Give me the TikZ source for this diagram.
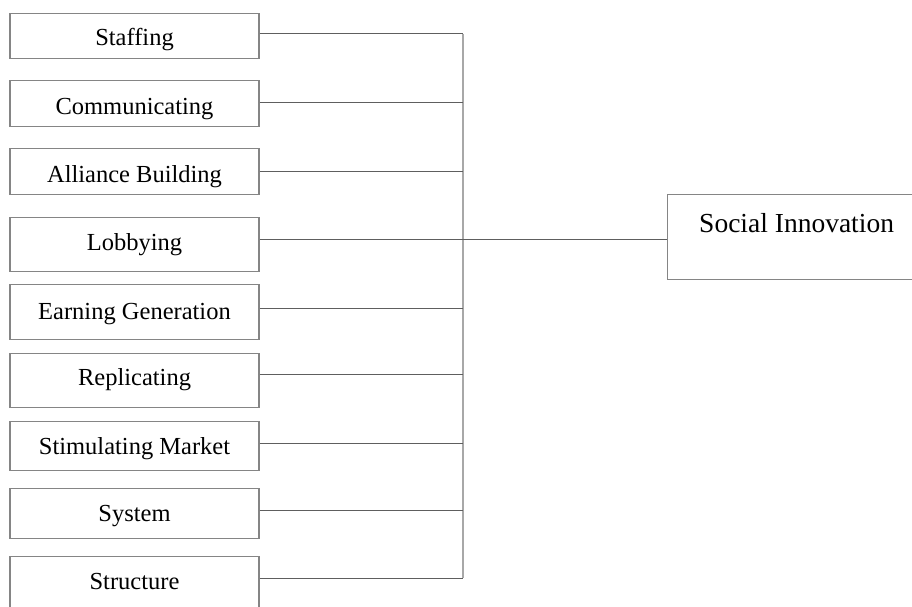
\documentclass[tikz,border=0pt]{standalone}
\usepackage{fontspec}
\setmainfont{Liberation Serif}
\usepackage{xcolor}

\definecolor{boxgray}{HTML}{858585}
\definecolor{linegray}{HTML}{5E5E5E}
\definecolor{busgray}{HTML}{A8A8A8}

\tikzset{
    item/.style 2 args={draw=boxgray, line width=1.2pt, minimum width=249pt,
        inner sep=0pt, text height=#1, text depth=#2, anchor=north,
        font=\fontsize{24.5}{29}\selectfont},
    link/.style={draw=linegray, line width=1pt},
    bus/.style={draw=busgray, line width=1.4pt}
}

\begin{document}
\begin{tikzpicture}[x=1pt, y=-1pt]
    % Frame
    \useasboundingbox (0,0) rectangle (912,607);
    \clip (0,0) rectangle (912,607);

    % Activity boxes
    \node[item={31.5pt}{13.5pt}] (staffing) at (134.5,13) {Staffing};
    \node[item={33.5pt}{12.5pt}] (communicating) at (134.5,80) {Communicating};
    \node[item={33.5pt}{12.5pt}] (alliance) at (134.5,148) {Alliance Building};
    \node[item={32.5pt}{21.5pt}] (lobbying) at (134.5,217) {Lobbying};
    \node[item={34.5pt}{20.5pt}] (earning) at (134.5,284) {Earning Generation};
    \node[item={31.5pt}{22.5pt}] (replicating) at (134.5,353) {Replicating};
    \node[item={32.5pt}{16.5pt}] (stimulating) at (134.5,421) {Stimulating Market};
    \node[item={32.5pt}{17.5pt}] (system) at (134.5,488) {System};
    \node[item={32.5pt}{31.5pt}] (structure) at (134.5,556) {Structure};

    % Outcome box
    \node[draw=boxgray, line width=1.2pt, anchor=north west, inner sep=0pt,
          minimum width=258pt, text height=38pt, text depth=47pt,
          font=\fontsize{27.5}{33}\selectfont] (social) at (667,194) {Social Innovation};

    % Points on the bus
    \coordinate (b1) at (463,34);
    \coordinate (b2) at (463,103);
    \coordinate (b3) at (463,171);
    \coordinate (b4) at (463,239);
    \coordinate (b5) at (463,308);
    \coordinate (b6) at (463,374);
    \coordinate (b7) at (463,443);
    \coordinate (b8) at (463,510);
    \coordinate (b9) at (463,578);

    % Bus
    \draw[bus] (b1) -- (b9);

    % Connectors to the bus
    \draw[link] (staffing.east |- b1) -- (b1);
    \draw[link] (communicating.east |- b2) -- (b2);
    \draw[link] (alliance.east |- b3) -- (b3);
    \draw[link] (lobbying.east |- b4) -- (b4);
    \draw[link] (earning.east |- b5) -- (b5);
    \draw[link] (replicating.east |- b6) -- (b6);
    \draw[link] (stimulating.east |- b7) -- (b7);
    \draw[link] (system.east |- b8) -- (b8);
    \draw[link] (structure.east |- b9) -- (b9);

    % Bus to outcome
    \draw[link] (b4) -- (social.west |- b4);
\end{tikzpicture}
\end{document}
